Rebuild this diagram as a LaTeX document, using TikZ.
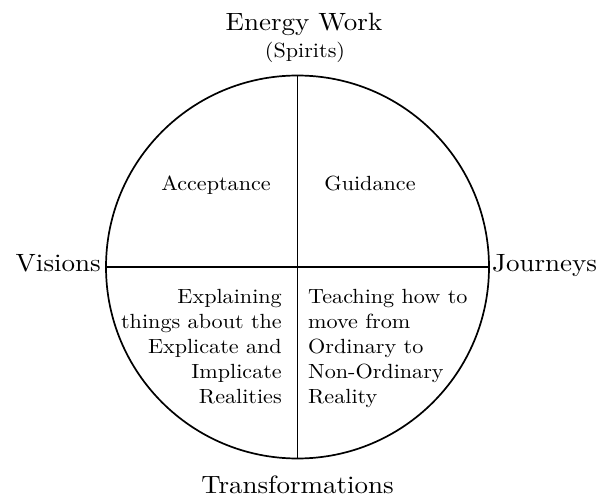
\documentclass[tikz,border=0pt]{standalone}
\usepackage{fontspec}
\setmainfont{lmroman10-regular}[Extension=.otf, FakeStretch=1.08]
\tikzset{
  ring/.style={circle, draw, line width=1.7pt, minimum size=383pt, inner sep=0pt, outer sep=0pt},
  divider/.style={line width=1.7pt},
  biglabel/.style={inner sep=0pt, font=\fontsize{25}{30}\selectfont},
  smalllabel/.style={inner sep=0pt, font=\fontsize{20.5}{25}\selectfont},
}
\begin{document}
\begin{tikzpicture}[x=1pt,y=-1pt]
\useasboundingbox (0,0) rectangle (603,500);
\node[ring] (c) at (297.5,267) {};
\draw[divider] (c.north) -- (c.south);
\draw[divider] (c.west) -- (c.east);
\node[biglabel, anchor=base] (ew) at (304,31) {Energy Work};
\node[smalllabel, anchor=base] (sp) at (305,58) {(Spirits)};
\node[biglabel, anchor=base east] (vi) at (101,272) {Visions};
\node[biglabel, anchor=base west] (jo) at (492,272) {Journeys};
\node[biglabel, anchor=base] (tr) at (297.5,493) {Transformations};
\node[smalllabel, anchor=base] (ac) at (216,191) {Acceptance};
\node[smalllabel, anchor=base] (gu) at (370,191) {Guidance};
\node[smalllabel, anchor=north east, align=right] (ex) at (282,289) {Explaining\\things about the\\Explicate and\\Implicate\\Realities};
\node[smalllabel, anchor=north west, align=left] (te) at (308,289) {Teaching how to\\move from\\Ordinary to\\Non-Ordinary\\Reality};
\end{tikzpicture}
\end{document}
